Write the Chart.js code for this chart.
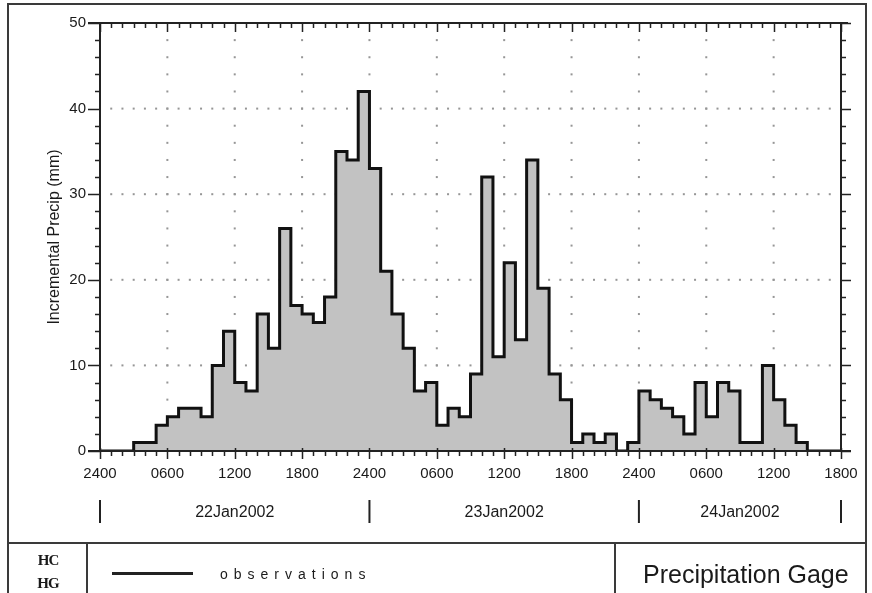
<!DOCTYPE html>
<html>
<head>
<meta charset="utf-8">
<script src="https://cdn.jsdelivr.net/npm/chart.js@4.4.1/dist/chart.umd.min.js"></script>
<style>
  body { margin: 0; width: 872px; height: 593px; overflow: hidden; background: #fff; position: relative;
         font-family: "Liberation Sans", Arial, sans-serif; color: #1a1a1a; }
  #frame { position: absolute; left: 7px; top: 3px; width: 860px; height: 620px; border: 2px solid #3a3a3a; box-sizing: border-box; }
  #chart { position: absolute; left: 0; top: 0; }
  .rule { position: absolute; background: #3a3a3a; }
  .logo { position: absolute; left: 9px; width: 78px; text-align: center; font: bold 15px "Liberation Serif", serif; line-height: 15px; letter-spacing: -1px; }
  #obs { position: absolute; left: 220px; top: 567px; font-size: 14px; line-height: 14px; letter-spacing: 6px; }
  #gage { position: absolute; left: 643px; top: 562px; font-size: 25px; line-height: 25px; }
</style>
</head>
<body>
<div id="frame"></div>
<canvas id="chart" width="872" height="593"></canvas>
<div class="rule" style="left:8px; top:542px; width:858px; height:2px;"></div>
<div class="rule" style="left:86px; top:543px; width:2px; height:60px;"></div>
<div class="rule" style="left:614px; top:543px; width:2px; height:60px;"></div>
<div class="logo" style="top:553px;">HC</div>
<div class="logo" style="top:576px;">HG</div>
<div class="rule" style="left:112px; top:572px; width:81px; height:3px; background:#222;"></div>
<div id="obs">observations</div>
<div id="gage">Precipitation Gage</div>

<script>
// hourly incremental precipitation (mm), hour 0 = 22Jan2002 0000
const precip = [
  0, 0, 0, 1, 1, 3, 4, 5, 5, 4,
  10, 14, 8, 7, 16, 12, 26, 17, 16, 15,
  18, 35, 34, 42, 33, 21, 16, 12, 7, 8,
  3, 5, 4, 9, 32, 11, 22, 13, 34, 19,
  9, 6, 1, 2, 1, 2, 0, 1, 7, 6,
  5, 4, 2, 8, 4, 8, 7, 1, 1, 10,
  6, 3, 1, 0, 0, 0
];
const timeLabels = ["2400", "0600", "1200", "1800", "2400", "0600", "1200", "1800", "2400", "0600", "1200", "1800"];
const dayLabels = ["22Jan2002", "23Jan2002", "24Jan2002"];
const dayStarts = [0, 24, 48];

// period-ending values: value i covers hour i .. i+1
const points = [{ x: 0, y: 0 }].concat(precip.map((v, i) => ({ x: i + 1, y: v })));

const frameAxes = {
  id: "frameAxes",
  beforeDatasetsDraw(chart) {
    const { ctx, scales: { x, y } } = chart;
    ctx.save();
    ctx.fillStyle = "#969696";
    for (let h = x.min + 6; h < x.max; h += 6) {
      const px = x.getPixelForValue(h);
      for (let v = y.min + 2; v < y.max; v += 2) ctx.fillRect(px - 1, y.getPixelForValue(v) - 1, 2, 2);
    }
    for (let v = y.min + 10; v < y.max; v += 10) {
      const py = y.getPixelForValue(v);
      for (let h = x.min + 1; h < x.max; h++) ctx.fillRect(x.getPixelForValue(h) - 1, py - 1, 2, 2);
    }
    ctx.restore();
  },
  afterDatasetsDraw(chart) {
    const { ctx, chartArea: a, scales: { x, y } } = chart;
    ctx.save();
    ctx.strokeStyle = "#222";
    ctx.lineWidth = 2;
    ctx.beginPath();
    ctx.moveTo(a.left - 12, a.top); ctx.lineTo(a.right + 7, a.top);
    ctx.moveTo(a.left, a.top); ctx.lineTo(a.left, a.bottom);
    ctx.moveTo(a.left - 12, a.bottom); ctx.lineTo(a.right + 10, a.bottom);
    ctx.moveTo(a.right, a.top); ctx.lineTo(a.right, a.bottom);
    ctx.stroke();

    // hour ticks, bottom (outward) and top (inward)
    ctx.lineWidth = 1.5;
    ctx.beginPath();
    for (let h = x.min; h <= x.max; h++) {
      const px = Math.round(x.getPixelForValue(h)) + 0.5;
      const major = h % 6 === 0;
      ctx.moveTo(px, a.bottom - (major ? 3 : 0)); ctx.lineTo(px, a.bottom + (major ? 8 : 5));
      ctx.moveTo(px, a.top); ctx.lineTo(px, a.top + (major ? 9 : 5));
    }
    // 2 mm ticks, left and right (outward)
    for (let v = y.min; v <= y.max; v += 2) {
      const py = Math.round(y.getPixelForValue(v)) + 0.5;
      const major = v % 10 === 0;
      ctx.moveTo(a.left - (major ? 12 : 5), py); ctx.lineTo(a.left, py);
      ctx.moveTo(a.right, py); ctx.lineTo(a.right + (major ? 10 : 5), py);
    }
    ctx.stroke();

    // day row
    ctx.lineWidth = 2;
    ctx.fillStyle = "#1a1a1a";
    ctx.font = "16px 'Liberation Sans', Arial, sans-serif";
    ctx.textAlign = "center";
    ctx.textBaseline = "alphabetic";
    ctx.beginPath();
    dayStarts.forEach((s, i) => {
      const e = Math.min(s + 24, x.max);
      const p0 = x.getPixelForValue(s), p1 = x.getPixelForValue(e);
      ctx.moveTo(p0, 500); ctx.lineTo(p0, 523);
      if (i === dayStarts.length - 1) { ctx.moveTo(p1, 500); ctx.lineTo(p1, 523); }
      ctx.fillText(dayLabels[i], (p0 + p1) / 2, 517);
    });
    ctx.stroke();
    ctx.restore();
  }
};

new Chart(document.getElementById("chart"), {
  type: "line",
  data: {
    datasets: [{
      label: "observations",
      data: points,
      stepped: "after",
      fill: "origin",
      backgroundColor: "#c2c2c2",
      borderColor: "#111",
      borderWidth: 3,
      pointRadius: 0
    }]
  },
  options: {
    responsive: false,
    animation: false,
    layout: { padding: { top: 23, right: 31, bottom: 112, left: 0 } },
    plugins: { legend: { display: false }, tooltip: { enabled: false } },
    scales: {
      x: {
        type: "linear",
        min: 0,
        max: 66,
        grid: { display: false, drawTicks: false },
        border: { display: false },
        ticks: {
          stepSize: 6,
          autoSkip: false,
          maxRotation: 0,
          padding: 14,
          color: "#1a1a1a",
          font: { family: "'Liberation Sans', Arial, sans-serif", size: 15 },
          callback: v => timeLabels[v / 6]
        },
        afterFit(s) { s.height = 30; s.paddingLeft = 0; s.paddingRight = 0; }
      },
      y: {
        min: 0,
        max: 50,
        grid: { display: false, drawTicks: false },
        border: { display: false },
        ticks: {
          stepSize: 10,
          padding: 14,
          color: "#1a1a1a",
          font: { family: "'Liberation Sans', Arial, sans-serif", size: 15 }
        },
        title: {
          display: true,
          text: "Incremental Precip (mm)",
          color: "#1a1a1a",
          font: { family: "'Liberation Sans', Arial, sans-serif", size: 16 },
          padding: { top: 45, bottom: 0 }
        },
        afterFit(s) { s.width = 100; s.paddingTop = 0; s.paddingBottom = 0; }
      }
    }
  },
  plugins: [frameAxes]
});
</script>
</body>
</html>
